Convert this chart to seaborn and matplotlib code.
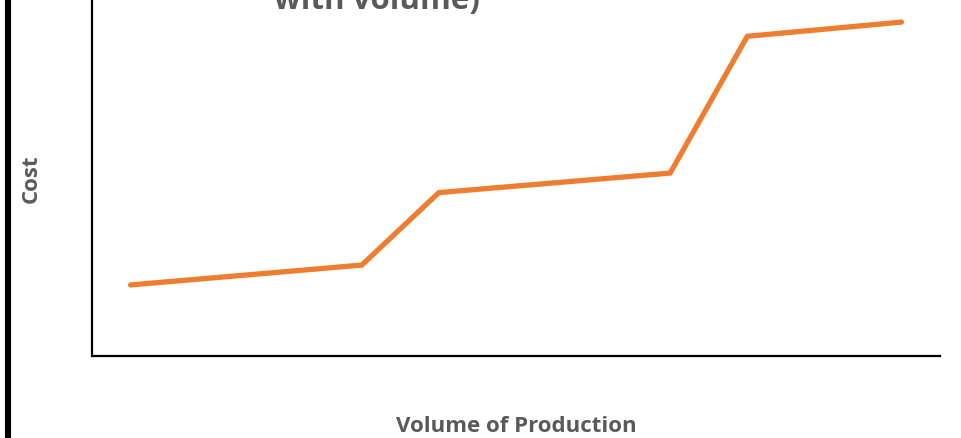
import matplotlib
matplotlib.use("Agg")
import matplotlib.pyplot as plt
from matplotlib.lines import Line2D
import seaborn as sns
import pandas as pd

# Step-variable cost: cost rises gently within a range, then jumps to a new step
volume = [5, 35, 45, 75, 85, 105]
cost = [20, 25.6, 46, 51.5, 90, 94]

title_text = "with volume)"
x_label = "Volume of Production"
y_label = "Cost"

line_color = "#ED7D31"
text_color = "#595959"

sns.set_style("white")
plt.rcParams["font.family"] = ["Open Sans", "DejaVu Sans"]

W, H = 961, 439
fig = plt.figure(figsize=(W / 100, H / 100), dpi=100)
ax = fig.add_axes([92 / W, (H - 357) / H, (940 - 92) / W, 357 / H])

df = pd.DataFrame({"volume": volume, "cost": cost})
sns.lineplot(data=df, x="volume", y="cost", ax=ax, color=line_color,
             linewidth=3.8, solid_capstyle="round", solid_joinstyle="miter")

ax.set_xlim(0, 110)
ax.set_ylim(0, 100.5)
ax.set_xticks([])
ax.set_yticks([])
ax.set_xlabel("")
ax.set_ylabel("")
for side in ("top", "right"):
    ax.spines[side].set_visible(False)
for side in ("left", "bottom"):
    ax.spines[side].set_color("black")
    ax.spines[side].set_linewidth(1.6)

# axis titles
fig.text(516 / W, 1 - 427 / H, x_label, ha="center", va="center",
         fontsize=16, fontweight="bold", color=text_color)
fig.text(31 / W, 1 - 179 / H, y_label, ha="center", va="center",
         rotation=90, fontsize=16, fontweight="bold", color=text_color)

# second line of the chart title, running off the top edge
fig.text(377 / W, 1 - 9 / H, title_text, ha="center", va="baseline",
         fontsize=22.5, fontweight="bold", color=text_color)

# heavy frame rule at the left edge
fig.add_artist(Line2D([8 / W, 8 / W], [0, 1], transform=fig.transFigure,
                      color="black", linewidth=4.4))

fig.savefig("out.png", dpi=100)
